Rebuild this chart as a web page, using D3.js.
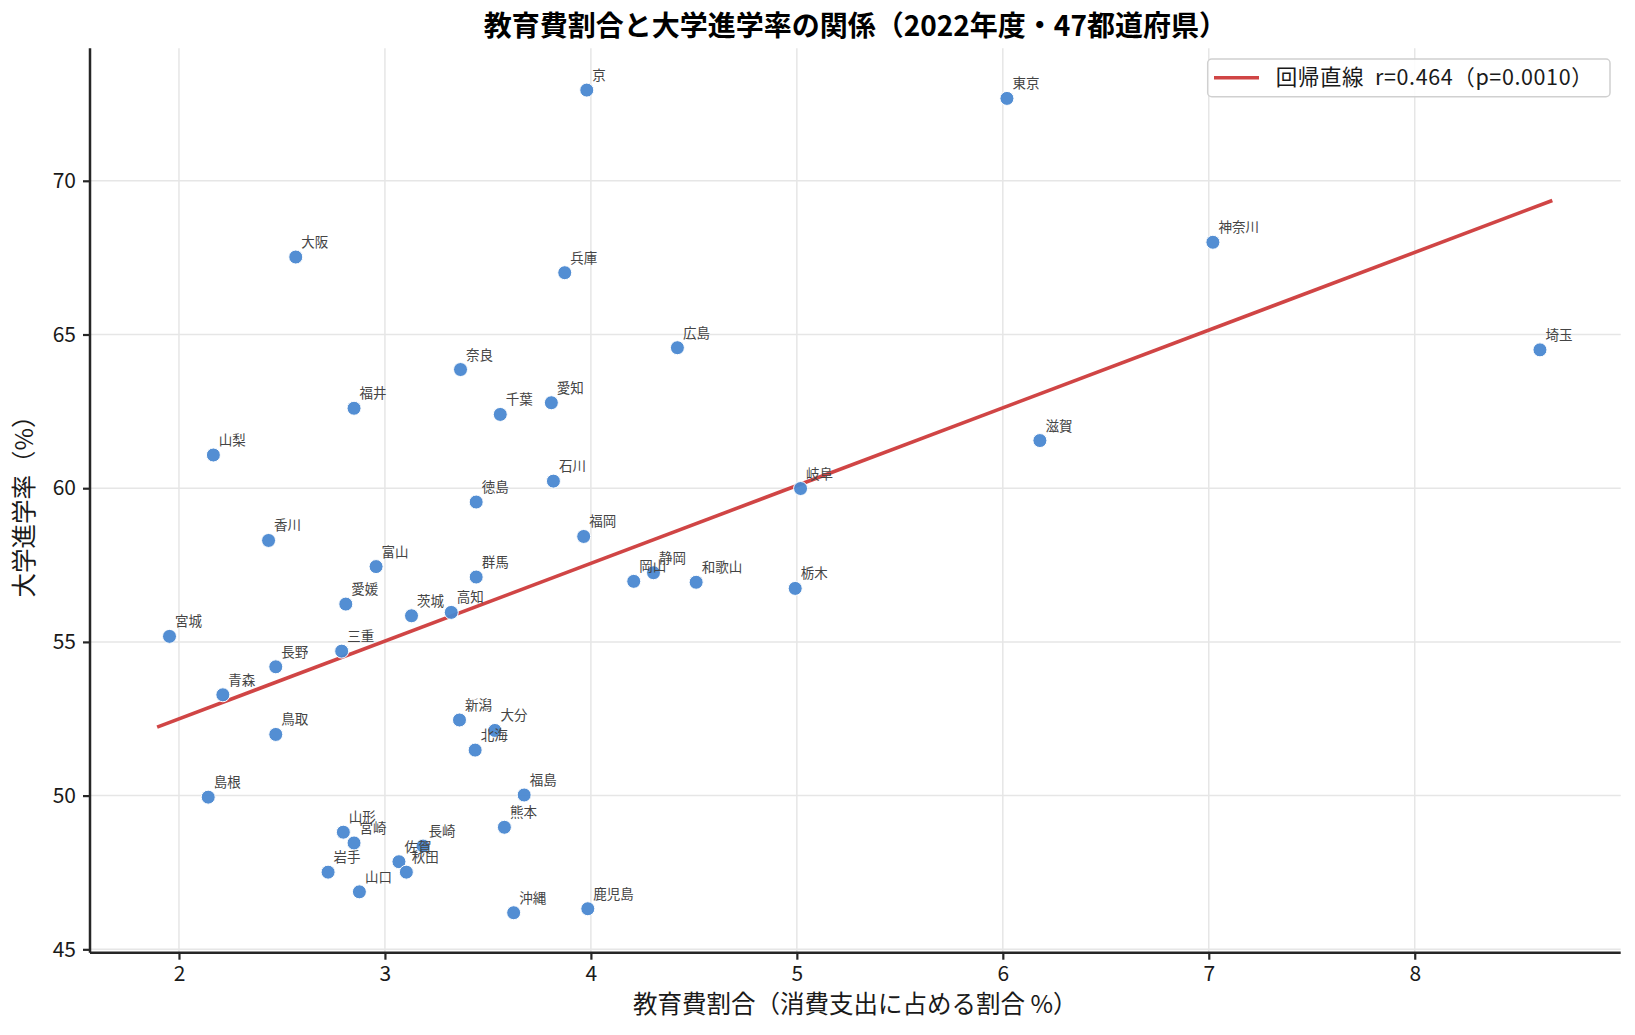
<!DOCTYPE html>
<html><head><meta charset="utf-8">
<script src="https://cdn.jsdelivr.net/npm/d3@7/dist/d3.min.js"></script>
<style>
html,body{margin:0;padding:0;background:#fff;}
svg text{font-family:"Noto Sans CJK JP","Noto Sans",sans-serif;}
</style></head>
<body>
<svg id="chart" width="1635" height="1035"></svg>
<script>
const prefectures = ["京","東京","神奈川","大阪","兵庫","広島","埼玉","奈良","愛知","福井","千葉","滋賀","山梨","石川","岐阜","徳島","福岡","香川","富山","静岡","群馬","岡山","和歌山","栃木","愛媛","茨城","高知","宮城","三重","長野","青森","新潟","大分","鳥取","北海","島根","福島","熊本","山形","宮崎","長崎","佐賀","秋田","岩手","山口","鹿児島","沖縄"];
const eduShare = [3.98,6.02,7.02,2.567,3.873,4.42,8.608,3.367,3.808,2.85,3.56,6.18,2.167,3.818,5.018,3.443,3.965,2.435,2.957,4.304,3.443,4.208,4.511,4.992,2.81,3.129,3.322,1.954,2.79,2.47,2.213,3.362,3.534,2.47,3.438,2.142,3.676,3.58,2.798,2.85,3.185,3.068,3.104,2.724,2.876,3.985,3.625];
const uniRate = [72.95,72.68,68.0,67.52,67.01,64.57,64.5,63.86,62.78,62.6,62.4,61.55,61.08,60.23,59.99,59.55,58.43,58.3,57.45,57.25,57.11,56.97,56.94,56.74,56.23,55.85,55.96,55.18,54.7,54.19,53.28,52.46,52.12,51.99,51.48,49.95,50.02,48.97,48.81,48.46,48.36,47.85,47.51,47.51,46.87,46.32,46.19];
const regX = [1.894, 8.668];
const regY = [52.23, 69.36];
const xTicks = [2,3,4,5,6,7,8];
const yTicks = [45,50,55,60,65,70];
const titleText = "教育費割合と大学進学率の関係（2022年度・47都道府県）";
const xLabel = "教育費割合（消費支出に占める割合 %）";
const yLabel = "大学進学率（%）";
const legendText = "回帰直線  r=0.464（p=0.0010）";

const svg = d3.select("#chart");
const L = 90, R = 1620.7, T = 48.3, B = 952.7;
const x = d3.scaleLinear().domain([1.568, 9.0]).range([L, R]);
const y = d3.scaleLinear().domain([44.89, 74.31]).range([B, T]);

// grid
const grid = svg.append("g");
grid.selectAll("line.gx").data(xTicks).join("line")
  .attr("x1", d => x(d)).attr("x2", d => x(d)).attr("y1", T).attr("y2", B)
  .attr("stroke", "#e6e6e6").attr("stroke-width", 1.5);
grid.selectAll("line.gy").data(yTicks).join("line")
  .attr("y1", d => y(d)).attr("y2", d => y(d)).attr("x1", L).attr("x2", R)
  .attr("stroke", "#e6e6e6").attr("stroke-width", 1.5);

// regression line
svg.append("line")
  .attr("x1", x(regX[0])).attr("y1", y(regY[0]))
  .attr("x2", x(regX[1])).attr("y2", y(regY[1]))
  .attr("stroke", "#d04545").attr("stroke-width", 3.6);

// points
const data = prefectures.map((p, i) => ({p, x: eduShare[i], y: uniRate[i]}));
svg.append("g").selectAll("circle").data(data).join("circle")
  .attr("cx", d => x(d.x)).attr("cy", d => y(d.y)).attr("r", 7)
  .attr("fill", "#4a88d1").attr("fill-opacity", 0.95)
  .attr("stroke", "#fff").attr("stroke-width", 1);

// labels
svg.append("g").selectAll("text").data(data).join("text")
  .attr("x", d => x(d.x) + 5.5).attr("y", d => y(d.y) - 10)
  .attr("font-size", 13.5).attr("fill", "#444")
  .text(d => d.p);

// axes
const xAxis = svg.append("g").attr("transform", `translate(0,${B})`)
  .call(d3.axisBottom(x).tickValues(xTicks).tickFormat(d3.format("d")).tickSize(7).tickPadding(6));
const yAxis = svg.append("g").attr("transform", `translate(${L},0)`)
  .call(d3.axisLeft(y).tickValues(yTicks).tickFormat(d3.format("d")).tickSize(7).tickPadding(7));
[xAxis, yAxis].forEach(a => {
  a.select(".domain").attr("stroke", "#262626").attr("stroke-width", 2.5);
  a.selectAll(".tick line").attr("stroke", "#262626").attr("stroke-width", 2.2);
  a.selectAll(".tick text").attr("font-size", 21).attr("fill", "#1a1a1a")
    .attr("font-family", "\"Noto Sans CJK JP\",sans-serif");
});
xAxis.select(".domain").attr("d", `M${L},0H${R}`);
yAxis.select(".domain").attr("d", `M0,${B}V${T}`);

// title
svg.append("text").attr("x", (L + R) / 2).attr("y", 36)
  .attr("text-anchor", "middle").attr("font-size", 28).attr("font-weight", "bold")
  .attr("fill", "#000").text(titleText);

// axis labels
svg.append("text").attr("x", (L + R) / 2).attr("y", 1013)
  .attr("text-anchor", "middle").attr("font-size", 24.5).attr("fill", "#1a1a1a")
  .text(xLabel);
svg.append("text").attr("transform", `translate(33,${(T + B) / 2}) rotate(-90)`)
  .attr("text-anchor", "middle").attr("font-size", 24.5).attr("fill", "#1a1a1a")
  .text(yLabel);

// legend
const lg = svg.append("g");
lg.append("rect").attr("x", 1207.7).attr("y", 59).attr("width", 402.3).attr("height", 37.7)
  .attr("rx", 4).attr("fill", "#fff").attr("fill-opacity", 0.85)
  .attr("stroke", "#d0d0d0").attr("stroke-width", 1.5);
lg.append("line").attr("x1", 1214).attr("x2", 1259).attr("y1", 77.7).attr("y2", 77.7)
  .attr("stroke", "#d04545").attr("stroke-width", 3.6);
lg.append("text").attr("x", 1275.7).attr("y", 85).attr("font-size", 21.5).attr("fill", "#1a1a1a")
  .style("white-space", "pre").attr("xml:space", "preserve")
  .attr("textLength", 317).attr("lengthAdjust", "spacing")
  .text(legendText);
</script>
</body></html>
